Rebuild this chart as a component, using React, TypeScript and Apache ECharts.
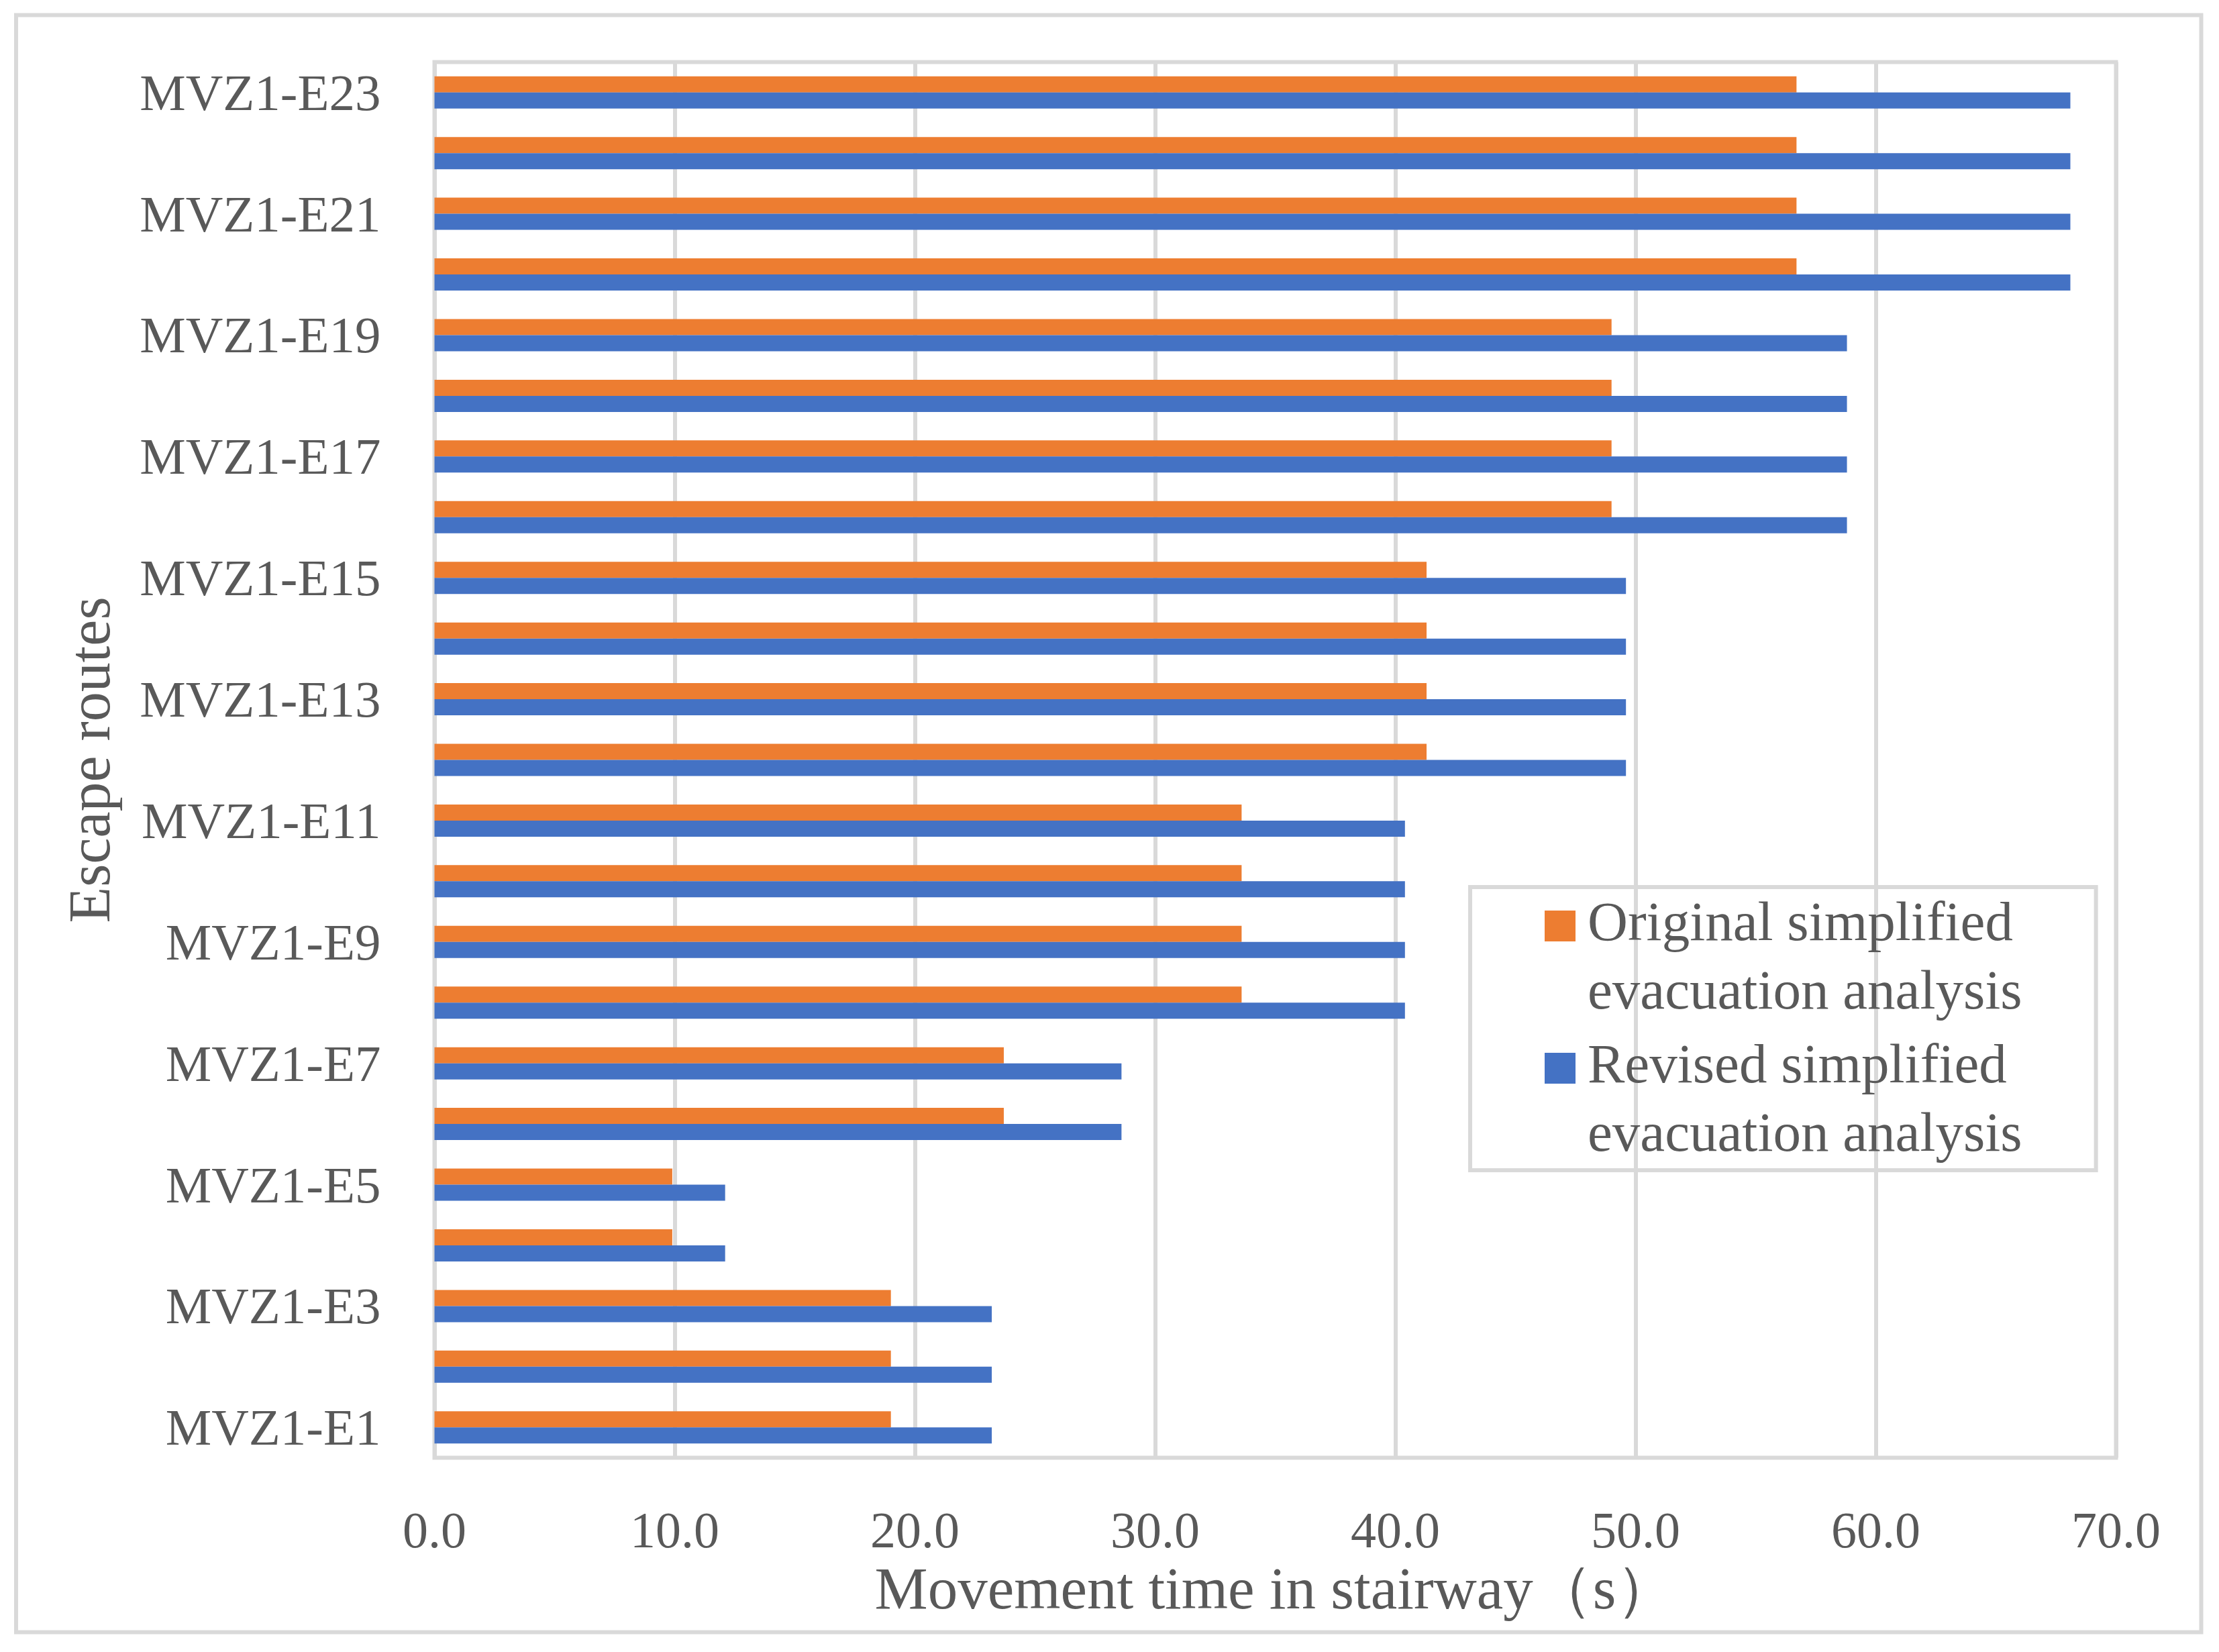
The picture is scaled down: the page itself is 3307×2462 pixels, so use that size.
import React, { useEffect, useRef } from 'react';
import * as echarts from 'echarts';

const categories = [
    'MVZ1-E1', 'MVZ1-E2', 'MVZ1-E3', 'MVZ1-E4', 'MVZ1-E5', 'MVZ1-E6', 'MVZ1-E7', 'MVZ1-E8',
    'MVZ1-E9', 'MVZ1-E10', 'MVZ1-E11', 'MVZ1-E12', 'MVZ1-E13', 'MVZ1-E14', 'MVZ1-E15', 'MVZ1-E16',
    'MVZ1-E17', 'MVZ1-E18', 'MVZ1-E19', 'MVZ1-E20', 'MVZ1-E21', 'MVZ1-E22', 'MVZ1-E23'
];

const originalValues = [
    19.0, 19.0, 19.0, 9.9, 9.9, 23.7, 23.7, 33.6, 33.6, 33.6, 33.6, 41.3,
    41.3, 41.3, 41.3, 49.0, 49.0, 49.0, 49.0, 56.7, 56.7, 56.7, 56.7
];

const revisedValues = [
    23.2, 23.2, 23.2, 12.1, 12.1, 28.6, 28.6, 40.4, 40.4, 40.4, 40.4, 49.6,
    49.6, 49.6, 49.6, 58.8, 58.8, 58.8, 58.8, 68.1, 68.1, 68.1, 68.1
];

const seriesNames = ['Original simplified evacuation analysis', 'Revised simplified evacuation analysis'];
const seriesColors = ['#ED7D31', '#4472C4'];

const FONT = '"Liberation Serif", "Times New Roman", serif';
const TEXT = '#595959';
const LINE = '#D9D9D9';

const App: React.FC = () => {
    const chartRef = useRef<HTMLDivElement>(null);

    useEffect(() => {
        if (!chartRef.current) return;
        document.body.style.margin = '0';

        const chart = echarts.init(chartRef.current, null, { renderer: 'svg' });

        const option = {
            animation: false,
            backgroundColor: '#ffffff',
            textStyle: { fontFamily: FONT, color: TEXT },
            graphic: [
                {
                    type: 'rect',
                    shape: { x: 24, y: 22.5, width: 3256.5, height: 2410 },
                    style: { fill: 'none', stroke: LINE, lineWidth: 6 },
                    silent: true
                }
            ],
            grid: {
                left: 647.5,
                right: 153.5,
                top: 92.5,
                bottom: 289.5,
                show: true,
                borderColor: LINE,
                borderWidth: 6,
                containLabel: false
            },
            legend: {
                orient: 'vertical',
                left: 2191,
                top: 1322,
                padding: [0, 110, 6, 111],
                itemGap: 8,
                borderColor: LINE,
                borderWidth: 6,
                itemWidth: 59,
                itemHeight: 134,
                // square at the top of the icon box so it sits beside the first text line
                icon: 'path://M0,0L46,0L46,46L0,46Z M58.9,133.9L59,134L58.9,134Z',
                data: seriesNames,
                formatter: (name: string) => name.replace(' evacuation', '\nevacuation'),
                textStyle: { fontFamily: FONT, fontSize: 83, lineHeight: 102, color: TEXT }
            },
            xAxis: {
                type: 'value',
                min: 0,
                max: 70,
                interval: 10,
                name: 'Movement time in stairway（s）',
                nameLocation: 'middle',
                nameGap: 150,
                nameTextStyle: { fontFamily: FONT, fontSize: 89, color: TEXT },
                axisLine: { show: false },
                axisTick: { show: false },
                axisLabel: {
                    fontFamily: FONT,
                    fontSize: 76,
                    color: TEXT,
                    margin: 69,
                    formatter: (v: number) => v.toFixed(1)
                },
                splitLine: { show: true, lineStyle: { color: LINE, width: 6 } }
            },
            yAxis: {
                type: 'category',
                data: categories,
                name: 'Escape routes',
                nameLocation: 'middle',
                nameGap: 470,
                nameTextStyle: { fontFamily: FONT, fontSize: 88, color: TEXT },
                axisLine: { show: false },
                axisTick: { show: false },
                axisLabel: {
                    interval: 1,
                    fontFamily: FONT,
                    fontSize: 77,
                    color: TEXT,
                    margin: 80,
                    padding: [0, 0, 12, 0]
                },
                splitLine: { show: false }
            },
            series: [
                {
                    name: seriesNames[0],
                    type: 'bar',
                    data: originalValues,
                    barWidth: 24,
                    barGap: '0%',
                    itemStyle: { color: seriesColors[0], borderWidth: 0 }
                },
                {
                    name: seriesNames[1],
                    type: 'bar',
                    data: revisedValues,
                    barWidth: 24,
                    barGap: '0%',
                    itemStyle: { color: seriesColors[1], borderWidth: 0 }
                }
            ]
        };

        chart.setOption(option as any);

        const handleResize = () => chart.resize();
        window.addEventListener('resize', handleResize);

        return () => {
            window.removeEventListener('resize', handleResize);
            chart.dispose();
        };
    }, []);

    return <div ref={chartRef} style={{ width: '3307px', height: '2462px' }} />;
};

export default App;
